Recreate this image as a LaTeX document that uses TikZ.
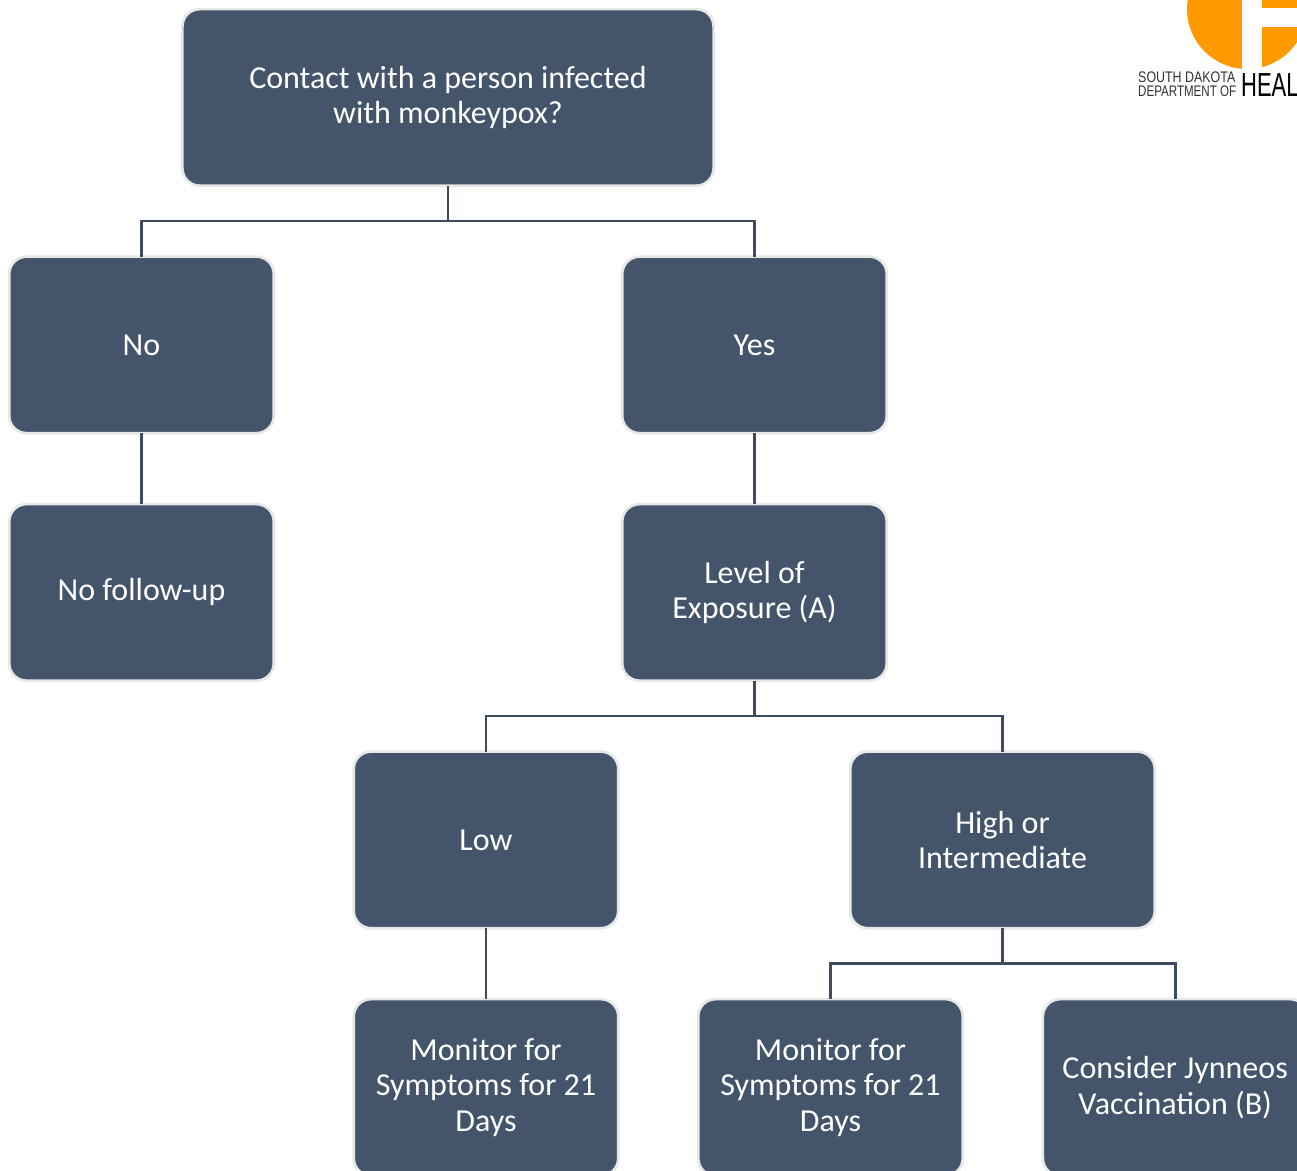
\documentclass[tikz,border=0pt]{standalone}
\usepackage{fontspec}
\setmainfont{Carlito}
\newfontfamily\logofont{Liberation Sans}
\usepackage{tikz}
\usetikzlibrary{calc}

\definecolor{boxblue}{HTML}{44546A}
\definecolor{boxrim}{HTML}{E7E7E7}
\definecolor{logoorange}{HTML}{FF9900}

\tikzset{
  box/.style={draw=boxrim,fill=boxblue,line width=2pt,rounded corners=13pt,text=white,outer sep=0pt,
    minimum height=132.4pt,minimum width=198.4pt,align=center,font=\fontsize{24}{26.6}\selectfont},
  elbow/.style={to path={-- ($(\tikztostart)!0.5!(\tikztostart |- \tikztotarget)$) -| (\tikztotarget)}},
  conn/.style={draw=boxblue!90!black,line width=2pt},
  logotext/.style={inner sep=0pt,anchor=west,text=black!80,transform shape}
}

\begin{document}
\begin{tikzpicture}[x=0.75pt,y=-0.75pt,node distance=185.625pt]
\useasboundingbox (0,0) rectangle (1297,1171);
\clip (0,0) rectangle (1297,1171);

\node[box,minimum width=398.4pt] (Contact) at (448,97.4) {Contact with a person infected\\with monkeypox?};
\node[box] (No) [below of=Contact,xshift=-229.875pt] {No};
\node[box] (Yes) [below of=Contact,xshift=229.875pt] {Yes};
\node[box] (NoFollow) [below of=No] {No follow-up};
\node[box] (Level) [below of=Yes] {Level of\\Exposure (A)};
\node[box] (Low) [below of=Level,xshift=-201.375pt] {Low};
\node[box,minimum width=228.4pt] (High) [below of=Level,xshift=186pt] {High or\\Intermediate};
\node[box] (MonLow) [below of=Low] {Monitor for\\Symptoms for 21\\Days};
\node[box] (MonHigh) [below of=High,xshift=-129pt] {Monitor for\\Symptoms for 21\\Days};
\node[box] (Jynneos) [below of=High,xshift=129.5pt] {Consider Jynneos\\Vaccination (B)};

\path[conn]
	(Contact.south) edge[elbow] (No.north)
	(Contact.south) edge[elbow] (Yes.north)
	(No) edge (NoFollow)
	(Yes) edge (Level)
	(Level.south) edge[elbow] (Low.north)
	(Level.south) edge[elbow] (High.north)
	(Low) edge (MonLow)
	(High.south) edge[elbow] (MonHigh.north)
	(High.south) edge[elbow] (Jynneos.north);

% logo
\fill[logoorange] (1247,9) circle (60);
\fill[white] (1242,-1) rectangle (1262,72);
\fill[white] (1262,8) rectangle (1310,27);
\node[logotext,xscale=.81,font=\fontsize{11.5}{11.5}\selectfont\logofont] (DeptTop) at (1138,77.5) {SOUTH DAKOTA};
\node[logotext,xscale=.755,font=\fontsize{11.5}{11.5}\selectfont\logofont] (DeptBottom) at (1138,91) {DEPARTMENT OF};
\node[logotext,xscale=.66,text=black,font=\fontsize{25}{25}\selectfont\logofont] (Health) at (1241,85) {HEAL};
\end{tikzpicture}
\end{document}
